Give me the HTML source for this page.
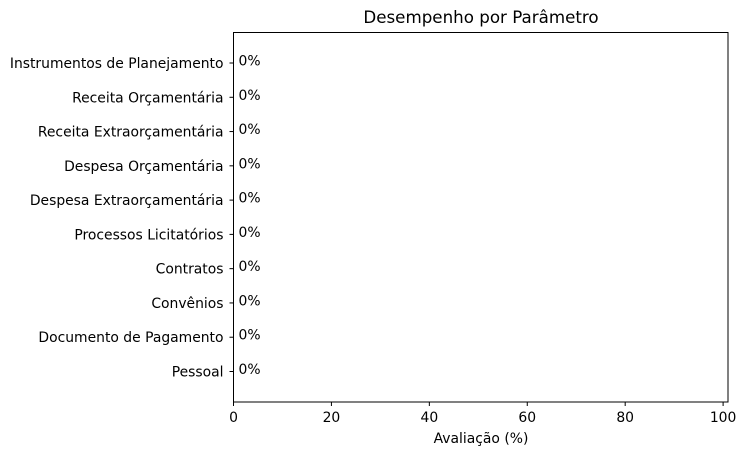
<!DOCTYPE html>
<html><head><meta charset="utf-8"><style>
body{margin:0;background:#fff;}
svg{display:block;font-family:"DejaVu Sans","Liberation Sans",sans-serif;}
</style></head><body>
<svg id="chart" width="747" height="455">
<text x="481" y="23" font-size="16.7" text-anchor="middle">Desempenho por Parâmetro</text>
<text x="481" y="443" font-size="13.9" text-anchor="middle">Avaliação (%)</text>
<g id="marks"></g>
<rect x="233.5" y="32.5" width="494.5" height="369.5" fill="none" stroke="#000" stroke-width="1"/>
</svg>
<script>
const categories=["Instrumentos de Planejamento","Receita Orçamentária","Receita Extraorçamentária","Despesa Orçamentária","Despesa Extraorçamentária","Processos Licitatórios","Contratos","Convênios","Documento de Pagamento","Pessoal"];
const values=[0,0,0,0,0,0,0,0,0,0];
const xTicks=[0,20,40,60,80,100];
const L=233.5,R=728,T=32.5,B=402;
const xMin=0,xMax=101;
const yMin=-0.89,yMax=9.89;
const sx=v=>L+(v-xMin)/(xMax-xMin)*(R-L);
const sy=i=>T+(i-yMin)/(yMax-yMin)*(B-T);
const g=document.getElementById('marks');
const NS='http://www.w3.org/2000/svg';
function mk(t,a){const e=document.createElementNS(NS,t);for(const k in a)e.setAttribute(k,a[k]);g.appendChild(e);return e;}
xTicks.forEach(v=>{
 const x=sx(v);
 const t=mk('line',{x1:x,x2:x,y1:B,y2:B+4,stroke:'#000'});
 
 
 const l=mk('text',{x:x,y:B+20,'font-size':13.9,'text-anchor':'middle'});
 l.textContent=v;
 
 
});
categories.forEach((c,i)=>{
 const y=sy(i);
 const t=mk('line',{x1:L-4,x2:L,y1:y,y2:y,stroke:'#000'});
 
 
 const l=mk('text',{x:L-10,y:y+5,'font-size':13.9,'text-anchor':'end'});
 l.textContent=c;
 
 
 const h=0.8*(B-T)/(yMax-yMin);
 const b=mk('rect',{x:sx(0),y:y-h/2,width:Math.max(0,sx(values[i])-sx(0)),height:h,fill:'#1f77b4'});
 
 
 const v=mk('text',{x:sx(values[i])+5,y:y+2.5,'font-size':13.9});
 v.textContent=values[i]+'%';
 
 
});
</script>
</body></html>
